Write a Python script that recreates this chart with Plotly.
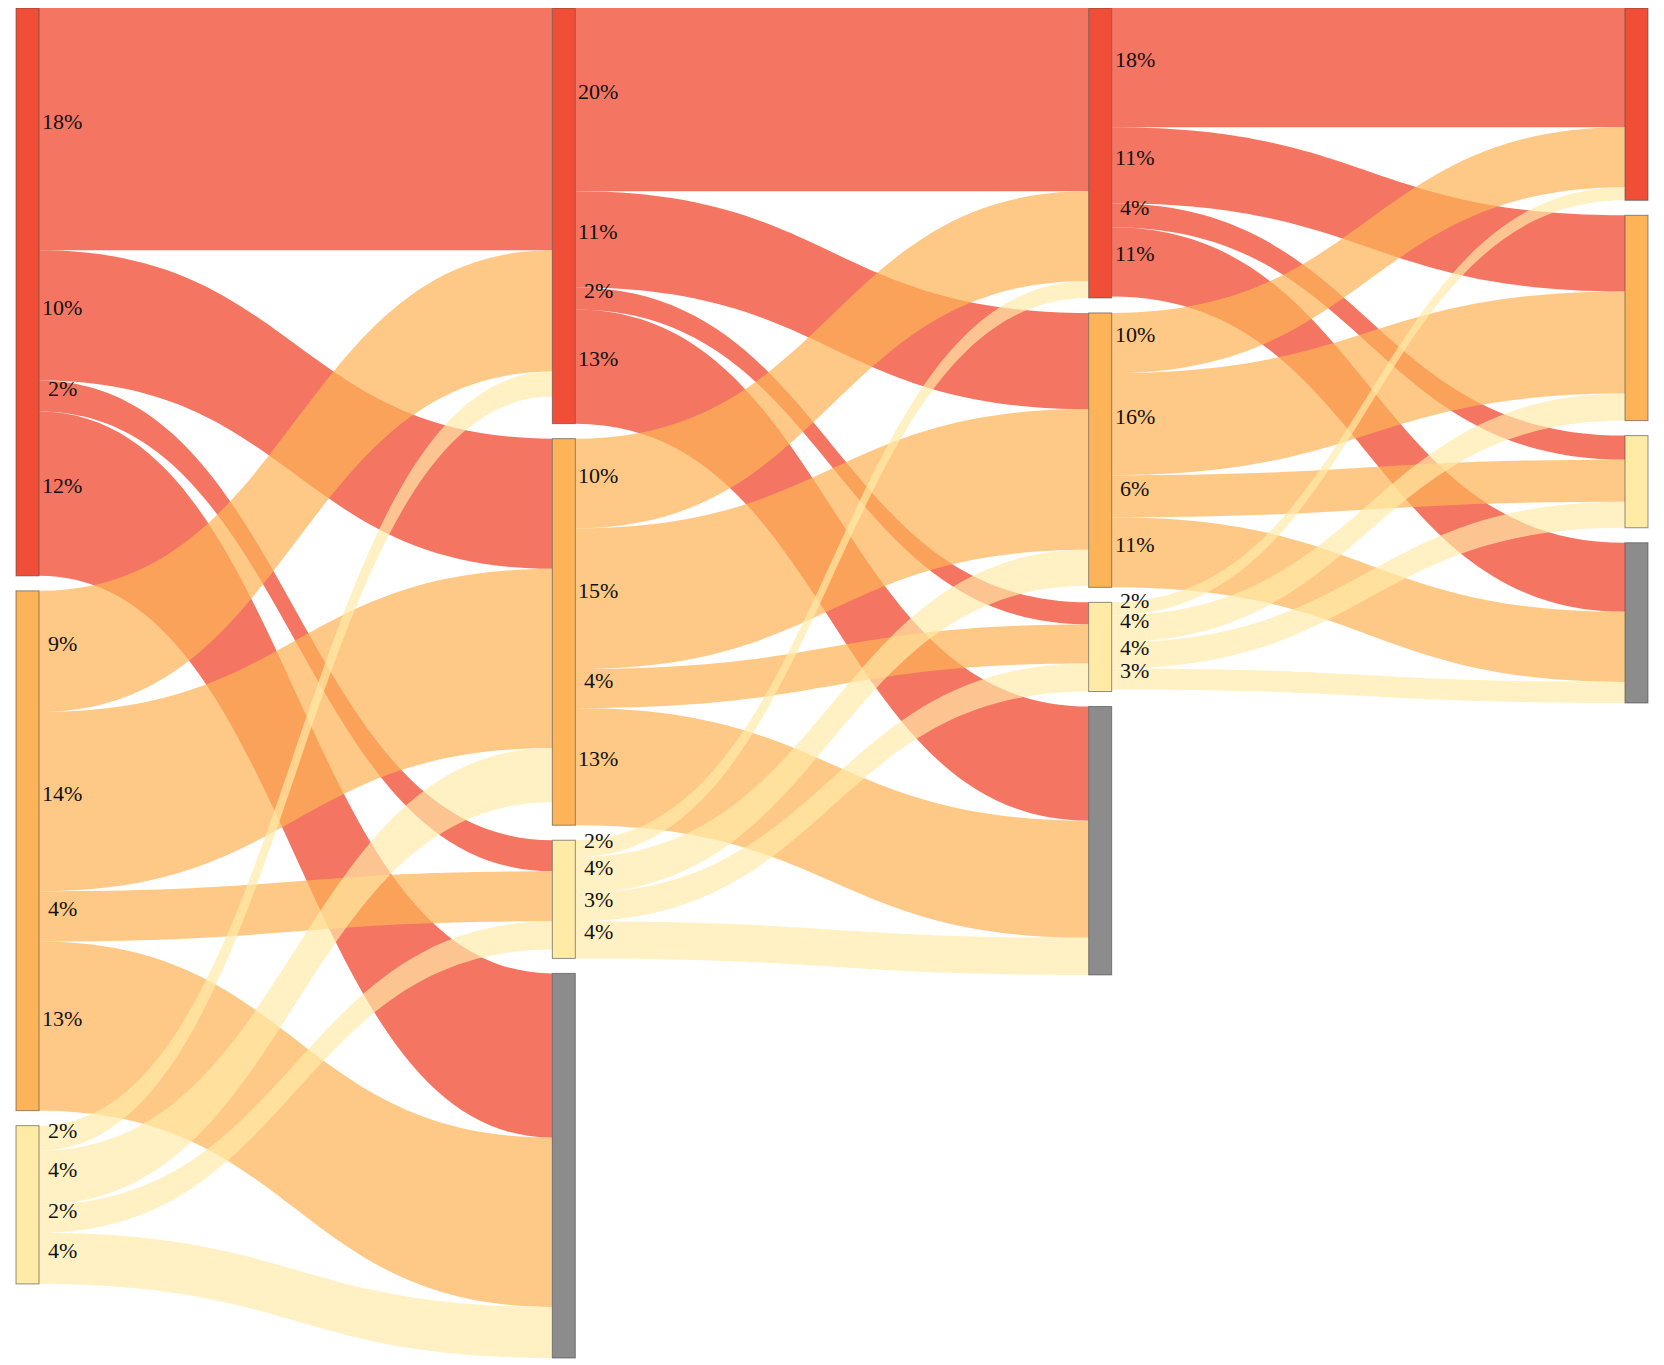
import plotly.graph_objects as go

# ---- data ----------------------------------------------------------------
states = ["red", "orange", "yellow", "grey"]          # node categories (top to bottom)
n_stages = 4

# link values for each transition: rows = source state, cols = target state
t1_values = [[242, 130, 31, 164],
             [121, 179, 50, 169],
             [25, 54, 28, 51]]
t1_labels = [["18%", "10%", "2%", "12%"],
             ["9%", "14%", "4%", "13%"],
             ["2%", "4%", "2%", "4%"]]

t2_values = [[183, 96, 22, 114],
             [89.5, 140.5, 39, 117],
             [17, 36, 28, 37]]
t2_labels = [["20%", "11%", "2%", "13%"],
             ["10%", "15%", "4%", "13%"],
             ["2%", "4%", "3%", "4%"]]

t3_values = [[119, 76, 24, 69],
             [60, 102, 42, 70],
             [13, 27, 26, 21]]
t3_labels = [["18%", "11%", "4%", "11%"],
             ["10%", "16%", "6%", "11%"],
             ["2%", "4%", "4%", "3%"]]

node_colors = {"red": "#F04E36", "orange": "#FDB458", "yellow": "#FFEBA6", "grey": "#8C8C8C"}
link_colors = {"red": "rgba(240,78,54,0.78)", "orange": "rgba(253,180,88,0.72)",
               "yellow": "rgba(255,235,166,0.68)"}

# ---- layout constants ------------------------------------------------------
# the page body adds an 8px margin around the figure
FIG_W, FIG_H = 1656, 1357
M_L, M_R, M_T, M_B = 8, 16, 0, 7
PAD, THICK = 15, 23
W = FIG_W - M_L - M_R
H = FIG_H - M_T - M_B

# ---- build nodes -----------------------------------------------------------
columns = [states[:3]] + [states[:] for _ in range(n_stages - 1)]
node_index = {}
node_col, node_state = [], []
for c, col in enumerate(columns):
    for s in col:
        node_index[(c, s)] = len(node_col)
        node_col.append(c)
        node_state.append(s)

transitions = [(t1_values, t1_labels), (t2_values, t2_labels), (t3_values, t3_labels)]
src, tgt, val, lab, lcol = [], [], [], [], []
for c, (vals, labs) in enumerate(transitions):
    for i, s in enumerate(states[:3]):
        for j, t in enumerate(states):
            src.append(node_index[(c, s)])
            tgt.append(node_index[(c + 1, t)])
            val.append(vals[i][j])
            lab.append(labs[i][j])
            lcol.append(link_colors[s])

n_nodes = len(node_col)
inflow = [0.0] * n_nodes
outflow = [0.0] * n_nodes
for s_, t_, v in zip(src, tgt, val):
    outflow[s_] += v
    inflow[t_] += v
node_val = [max(a, b) for a, b in zip(inflow, outflow)]

# same scale the sankey layout uses
ky = min((H - (len(col) - 1) * PAD) / sum(node_val[node_index[(c, s)]] for s in col)
         for c, col in enumerate(columns))
node_h = [v * ky for v in node_val]

node_top = [0.0] * n_nodes
for c, col in enumerate(columns):
    y = 0.0
    for s in col:
        k = node_index[(c, s)]
        node_top[k] = y
        y += node_h[k] + PAD

col_step = (W - THICK) / (n_stages - 1)
node_x = [(c * col_step + THICK / 2) / W for c in node_col]
node_y = [(node_top[k] + node_h[k] / 2) / H for k in range(n_nodes)]

# ---- annotations at the start of each link ---------------------------------
annotations = []
offset = [0.0] * n_nodes
for s_, t_, v, txt in zip(src, tgt, val, lab):
    yc = node_top[s_] + offset[s_] + v * ky / 2
    offset[s_] += v * ky
    xr = node_col[s_] * col_step + THICK + 23
    annotations.append(dict(
        x=xr / W, y=1 - yc / H, xref="paper", yref="paper",
        text=txt, showarrow=False, xanchor="center", yanchor="middle", yshift=8,
        font=dict(family="Liberation Serif, Times New Roman, serif", size=22, color="#111"),
    ))

fig = go.Figure(go.Sankey(
    arrangement="snap",
    node=dict(
        label=[""] * n_nodes,
        x=node_x, y=node_y,
        pad=PAD, thickness=THICK, align="left",
        color=[node_colors[s] for s in node_state],
        line=dict(color="rgba(70,70,70,0.6)", width=1),
        hoverinfo="none",
    ),
    link=dict(source=src, target=tgt, value=val, color=lcol, hoverinfo="none"),
))
fig.update_layout(
    width=FIG_W, height=FIG_H,
    margin=dict(l=M_L, r=M_R, t=M_T, b=M_B),
    paper_bgcolor="white", plot_bgcolor="white",
    annotations=annotations,
    showlegend=False,
)
fig.write_html("out.html")
